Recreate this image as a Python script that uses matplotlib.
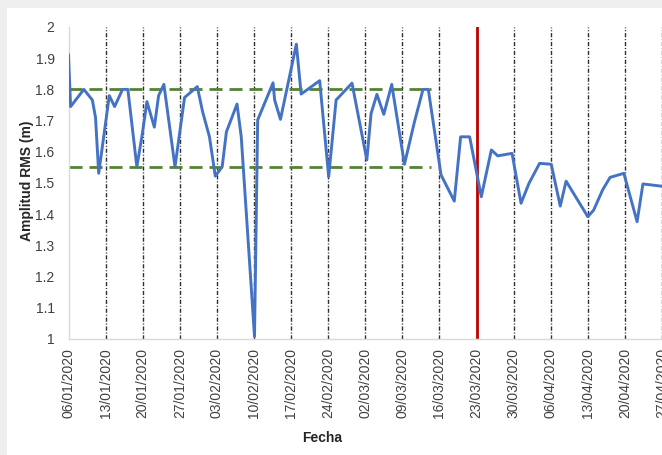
import numpy as np
import matplotlib.pyplot as plt
from matplotlib.patches import Rectangle

plt.rcParams['font.family'] = ['Liberation Sans', 'DejaVu Sans']

# dias desde 06/01/2020 y amplitud RMS
dias = [0, 0.4, 2.9, 4.5, 5.1, 5.7, 7.7, 8.7, 10.2, 11.2, 12.9, 13.9, 14.8,
        16.2, 17.0, 18.0, 20.1, 21.9, 24.3, 25.3, 26.6, 27.7, 29.0, 29.8,
        31.8, 32.6, 35.1, 35.7, 38.6, 38.9, 40.0, 43.0, 43.9, 47.4, 49.1,
        50.5, 53.5, 56.3, 57.1, 58.2, 59.5, 61.0, 63.4, 65.3, 66.9, 67.9,
        70.3, 72.8, 74.0, 75.7, 77.9, 79.8, 81.0, 83.7, 85.4, 86.9, 88.9,
        91.1, 92.8, 93.9, 98.0, 99.1, 100.8, 102.2, 104.8, 107.3, 108.4, 111.8]
amplitud = [1.910, 1.745, 1.800, 1.766, 1.710, 1.531, 1.780, 1.745, 1.800,
            1.800, 1.552, 1.654, 1.761, 1.679, 1.780, 1.816, 1.552, 1.774,
            1.809, 1.729, 1.648, 1.522, 1.552, 1.664, 1.753, 1.648, 1.008,
            1.702, 1.821, 1.766, 1.704, 1.945, 1.785, 1.828, 1.520, 1.766,
            1.820, 1.574, 1.723, 1.784, 1.720, 1.816, 1.560, 1.697, 1.800,
            1.800, 1.526, 1.442, 1.648, 1.648, 1.456, 1.606, 1.587, 1.595,
            1.435, 1.499, 1.563, 1.560, 1.426, 1.506, 1.392, 1.413, 1.478,
            1.518, 1.531, 1.376, 1.497, 1.490]

etiquetas = ['06/01/2020', '13/01/2020', '20/01/2020', '27/01/2020',
             '03/02/2020', '10/02/2020', '17/02/2020', '24/02/2020',
             '02/03/2020', '09/03/2020', '16/03/2020', '23/03/2020',
             '30/03/2020', '06/04/2020', '13/04/2020', '20/04/2020',
             '27/04/2020']
ticks = np.arange(len(etiquetas)) * 7

limites = [1.8, 1.55]      # lineas verdes
fin_limites = 68.5
dia_corte = 77             # 23/03/2020

fig = plt.figure(figsize=(6.62, 4.55), dpi=100, facecolor='#efefef')
fig.patches.append(Rectangle((7 / 662, 0), 1, 447 / 455, transform=fig.transFigure,
                             facecolor='white', edgecolor='none', zorder=-10))
ax = fig.add_axes([68.5 / 662, 116 / 455, (662 - 68.5) / 662, 312 / 455])
ax.set_facecolor('none')

for t in ticks[1:]:
    if t == dia_corte:
        continue
    ax.axvline(t, color='#303030', lw=1.0, linestyle=(0, (3, 1.3, 0.8, 1.3)), zorder=1)
ax.axvline(dia_corte, color='#C00000', lw=2, zorder=2)
ax.hlines(limites, 0, fin_limites, color='#548235', lw=2,
          linestyles=[(0, (4.7, 2.5))], zorder=2)
ax.plot(dias, amplitud, color='#4472C4', lw=2.1, zorder=3)

ax.set_xlim(0, 111.8)
ax.set_ylim(1, 2)
ax.set_xticks(ticks)
ax.set_xticklabels(etiquetas, rotation=90)
yt = np.round(np.arange(1, 2.01, 0.1), 1)
ax.set_yticks(yt)
ax.set_yticklabels(['%g' % v for v in yt])
ax.tick_params(length=0, labelsize=10, colors='#404040')
ax.tick_params(axis='x', pad=6.5)
ax.tick_params(axis='y', pad=10)
for s in ['top', 'right']:
    ax.spines[s].set_visible(False)
for s in ['left', 'bottom']:
    ax.spines[s].set_color('#d9d9d9')
    ax.spines[s].set_linewidth(1)

fig.text(27 / 662, 1 - 181 / 455, 'Amplitud RMS (m)', rotation=90, fontsize=10,
         fontweight='bold', ha='center', va='center', color='#262626')
fig.text(322 / 662, 1 - 438 / 455, 'Fecha', fontsize=10, fontweight='bold',
         ha='center', va='center', color='#262626')

fig.savefig('out.png', dpi=100, facecolor=fig.get_facecolor())
